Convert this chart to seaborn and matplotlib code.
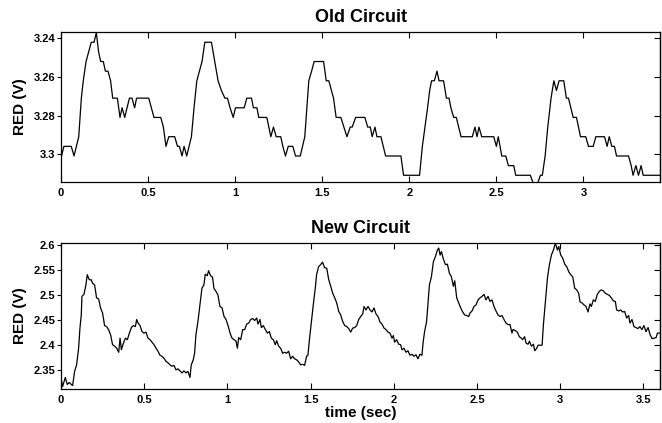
import matplotlib
matplotlib.use("Agg")
import matplotlib.pyplot as plt
import seaborn as sns

# Old circuit trace (quantised ADC steps), time in s, RED in V
old_t = [0.0, 0.003, 0.017, 0.059, 0.075, 0.102, 0.117, 0.128, 0.144, 0.159, 0.174, 0.190,
         0.203, 0.216, 0.228, 0.243, 0.255, 0.270, 0.285, 0.297, 0.324, 0.339, 0.351, 0.366,
         0.393, 0.408, 0.423, 0.434, 0.504, 0.534, 0.573, 0.588, 0.603, 0.619, 0.653, 0.669,
         0.680, 0.695, 0.707, 0.722, 0.749, 0.764, 0.780, 0.795, 0.810, 0.826, 0.864,
         0.883, 0.902, 0.921, 0.941, 0.956, 0.971, 0.989, 1.002, 1.052, 1.067, 1.094, 1.105,
         1.125, 1.136, 1.182, 1.205, 1.220, 1.236, 1.262, 1.274, 1.289, 1.305, 1.331, 1.347,
         1.374, 1.400, 1.412, 1.423, 1.439, 1.454, 1.508, 1.523, 1.538, 1.565, 1.580, 1.607,
         1.642, 1.661, 1.672, 1.692, 1.745, 1.761, 1.776, 1.787, 1.803, 1.814, 1.837, 1.864,
         1.952, 1.967, 2.059, 2.075, 2.090, 2.105, 2.117, 2.128, 2.144, 2.159, 2.171, 2.197,
         2.213, 2.228, 2.239, 2.255, 2.270, 2.297, 2.362, 2.377, 2.389, 2.400, 2.416, 2.485,
         2.500, 2.511, 2.531, 2.554, 2.569, 2.600, 2.611, 2.695, 2.715, 2.734, 2.753, 2.764,
         2.780, 2.795, 2.814, 2.830, 2.845, 2.860, 2.887, 2.902, 2.914, 2.941, 2.960, 2.983,
         3.013, 3.029, 3.056, 3.071, 3.121, 3.136, 3.148, 3.163, 3.178, 3.190, 3.259, 3.274,
         3.285, 3.301, 3.316, 3.331, 3.343, 3.440]
old_v = [3.286, 3.301, 3.296, 3.296, 3.301, 3.291, 3.271, 3.262, 3.252, 3.247, 3.242, 3.242,
         3.237, 3.247, 3.252, 3.252, 3.257, 3.257, 3.262, 3.271, 3.271, 3.281, 3.276, 3.281,
         3.271, 3.271, 3.276, 3.271, 3.271, 3.281, 3.281, 3.286, 3.296, 3.291, 3.291, 3.296,
         3.296, 3.301, 3.296, 3.301, 3.291, 3.276, 3.262, 3.257, 3.252, 3.242, 3.242,
         3.252, 3.262, 3.267, 3.271, 3.271, 3.276, 3.281, 3.276, 3.276, 3.271, 3.271, 3.276,
         3.276, 3.281, 3.281, 3.291, 3.286, 3.291, 3.291, 3.296, 3.301, 3.296, 3.296, 3.301,
         3.301, 3.291, 3.276, 3.262, 3.257, 3.252, 3.252, 3.262, 3.262, 3.271, 3.281, 3.281,
         3.291, 3.286, 3.286, 3.281, 3.281, 3.286, 3.286, 3.291, 3.286, 3.291, 3.291, 3.301,
         3.301, 3.311, 3.311, 3.296, 3.286, 3.276, 3.267, 3.262, 3.262, 3.257, 3.262, 3.262,
         3.271, 3.271, 3.276, 3.281, 3.281, 3.291, 3.291, 3.286, 3.291, 3.286, 3.291, 3.291,
         3.296, 3.291, 3.301, 3.301, 3.306, 3.306, 3.311, 3.311, 3.316, 3.316, 3.311, 3.311,
         3.301, 3.286, 3.271, 3.262, 3.267, 3.262, 3.262, 3.271, 3.271, 3.281, 3.281, 3.291,
         3.291, 3.296, 3.296, 3.291, 3.291, 3.296, 3.291, 3.296, 3.296, 3.301, 3.301, 3.306,
         3.311, 3.306, 3.311, 3.306, 3.311, 3.311]

# New circuit trace
new_t = [0.000, 0.010, 0.026, 0.038, 0.050, 0.062, 0.070, 0.082, 0.094, 0.106, 0.114, 0.122,
         0.126, 0.138, 0.150, 0.158, 0.170, 0.182, 0.190, 0.202, 0.214, 0.226, 0.238, 0.250,
         0.262, 0.274, 0.286, 0.298, 0.310, 0.323, 0.335, 0.347, 0.355, 0.363, 0.375, 0.387,
         0.399, 0.411, 0.423, 0.435, 0.447, 0.455, 0.463, 0.475, 0.487, 0.499, 0.511, 0.523,
         0.535, 0.547, 0.559, 0.571, 0.583, 0.595, 0.607, 0.619, 0.631, 0.643, 0.655, 0.667,
         0.679, 0.691, 0.703, 0.715, 0.727, 0.739, 0.751, 0.763, 0.775, 0.783, 0.795, 0.803,
         0.811, 0.823, 0.835, 0.847, 0.859, 0.867, 0.879, 0.887, 0.899, 0.911,
         0.919, 0.931, 0.943, 0.955, 0.968, 0.980, 0.992, 1.004, 1.016, 1.028, 1.040, 1.052,
         1.060, 1.068, 1.080, 1.092, 1.104, 1.116, 1.128, 1.140, 1.152, 1.164, 1.176, 1.184,
         1.196, 1.204, 1.216, 1.228, 1.240, 1.252, 1.264, 1.276, 1.288, 1.296, 1.308, 1.320,
         1.332, 1.344, 1.356, 1.368, 1.380, 1.392, 1.404, 1.416, 1.428, 1.440, 1.452, 1.464,
         1.476, 1.484, 1.492, 1.504, 1.516, 1.528, 1.536, 1.548, 1.560, 1.572, 1.584, 1.597,
         1.609, 1.621, 1.633, 1.645, 1.657, 1.669, 1.681, 1.693, 1.705, 1.717, 1.729, 1.741,
         1.753, 1.765, 1.777, 1.789, 1.801, 1.813,
         1.821, 1.833, 1.845, 1.857, 1.869, 1.881, 1.893, 1.905, 1.917, 1.929, 1.941, 1.953,
         1.965, 1.977, 1.989, 1.997, 2.005, 2.017, 2.029, 2.041, 2.049, 2.061, 2.073, 2.085,
         2.097, 2.109, 2.121, 2.133, 2.145, 2.157, 2.169, 2.177, 2.185, 2.197, 2.206, 2.214,
         2.226, 2.238, 2.250, 2.262, 2.270, 2.278, 2.286, 2.298, 2.310, 2.322, 2.334, 2.346,
         2.358, 2.366, 2.378, 2.390, 2.402, 2.414, 2.426, 2.438, 2.450, 2.458, 2.470, 2.482,
         2.494, 2.506, 2.518, 2.530, 2.542, 2.554, 2.566, 2.578, 2.590, 2.602, 2.614, 2.626,
         2.638, 2.650, 2.662, 2.674, 2.686, 2.698, 2.710, 2.716,
         2.718, 2.730, 2.742, 2.754, 2.766, 2.774, 2.786, 2.795, 2.807, 2.815, 2.827, 2.839,
         2.847, 2.859, 2.867, 2.879, 2.891, 2.899, 2.911, 2.923, 2.935, 2.947, 2.959, 2.971,
         2.983, 2.991, 3.003, 3.015, 3.027, 3.039, 3.051, 3.063, 3.075, 3.087, 3.099, 3.111,
         3.119, 3.131, 3.143, 3.155, 3.167, 3.179, 3.187, 3.199, 3.211, 3.223, 3.235, 3.247,
         3.259, 3.271, 3.283, 3.295, 3.307, 3.319, 3.331, 3.339, 3.351, 3.363, 3.375, 3.387,
         3.399, 3.411, 3.419, 3.431, 3.443, 3.455, 3.467, 3.479, 3.491, 3.503, 3.515, 3.528,
         3.540, 3.552, 3.564, 3.576, 3.584, 3.592, 3.600]
new_v = [2.335, 2.318, 2.336, 2.322, 2.326, 2.322, 2.320, 2.348, 2.361, 2.394, 2.434, 2.460,
         2.497, 2.501, 2.520, 2.540, 2.530, 2.530, 2.523, 2.520, 2.494, 2.492, 2.474, 2.464,
         2.439, 2.437, 2.431, 2.421, 2.401, 2.398, 2.394, 2.386, 2.414, 2.391, 2.404, 2.414,
         2.411, 2.424, 2.435, 2.439, 2.437, 2.451, 2.444, 2.439, 2.427, 2.424, 2.426, 2.414,
         2.411, 2.406, 2.401, 2.394, 2.388, 2.380, 2.378, 2.374, 2.368, 2.365, 2.361, 2.358,
         2.360, 2.351, 2.353, 2.349, 2.345, 2.349, 2.345, 2.348, 2.336, 2.361, 2.371, 2.384,
         2.421, 2.447, 2.480, 2.513, 2.520, 2.541, 2.538, 2.548, 2.538, 2.535,
         2.513, 2.507, 2.500, 2.477, 2.474, 2.457, 2.451, 2.439, 2.424, 2.414, 2.411, 2.408,
         2.394, 2.415, 2.411, 2.431, 2.431, 2.442, 2.444, 2.451, 2.453, 2.449, 2.454, 2.442,
         2.451, 2.435, 2.439, 2.431, 2.424, 2.427, 2.414, 2.411, 2.401, 2.409, 2.398, 2.394,
         2.384, 2.386, 2.384, 2.388, 2.373, 2.378, 2.373, 2.371, 2.367, 2.361, 2.362, 2.360,
         2.378, 2.380, 2.408, 2.444, 2.480, 2.513, 2.540, 2.556, 2.560, 2.565, 2.554, 2.553,
         2.530, 2.517, 2.503, 2.494, 2.484, 2.467, 2.460, 2.447, 2.439, 2.437, 2.433, 2.426,
         2.434, 2.435, 2.439, 2.451, 2.457, 2.462,
         2.477, 2.470, 2.477, 2.470, 2.466, 2.474, 2.462, 2.457, 2.446, 2.442, 2.434, 2.431,
         2.426, 2.424, 2.414, 2.419, 2.406, 2.411, 2.402, 2.401, 2.391, 2.394, 2.386, 2.389,
         2.380, 2.382, 2.378, 2.381, 2.373, 2.382, 2.380, 2.408, 2.427, 2.447, 2.487, 2.520,
         2.536, 2.566, 2.576, 2.589, 2.593, 2.579, 2.586, 2.571, 2.560, 2.561, 2.543, 2.536,
         2.517, 2.528, 2.494, 2.484, 2.474, 2.466, 2.460, 2.459, 2.457, 2.464, 2.468, 2.477,
         2.480, 2.490, 2.494, 2.497, 2.501, 2.490, 2.497, 2.487, 2.490, 2.477, 2.468, 2.460,
         2.457, 2.459, 2.451, 2.444, 2.441, 2.441, 2.424, 2.431,
         2.431, 2.429, 2.426, 2.417, 2.414, 2.411, 2.417, 2.404, 2.402, 2.408, 2.398, 2.402,
         2.389, 2.394, 2.400, 2.400, 2.400, 2.441, 2.487, 2.533, 2.560, 2.579, 2.589, 2.603,
         2.589, 2.596, 2.579, 2.573, 2.561, 2.556, 2.546, 2.540, 2.536, 2.513, 2.510, 2.503,
         2.486, 2.484, 2.480, 2.477, 2.466, 2.482, 2.477, 2.490, 2.487, 2.501, 2.507, 2.510,
         2.508, 2.503, 2.501, 2.499, 2.494, 2.488, 2.487, 2.470, 2.468, 2.470, 2.466, 2.467,
         2.454, 2.459, 2.444, 2.451, 2.437, 2.435, 2.433, 2.437, 2.431, 2.439, 2.427, 2.435,
         2.421, 2.413, 2.414, 2.415, 2.424, 2.424, 2.424]

old_xticks = [0, 0.5, 1, 1.5, 2, 2.5, 3]
old_xlabels = ["0", "0.5", "1", "1.5", "2", "2.5", "3"]
old_yticks = [3.24, 3.26, 3.28, 3.3]
old_ylabels = ["3.24", "3.26", "3.28", "3.3"]
new_xticks = [0, 0.5, 1, 1.5, 2, 2.5, 3, 3.5]
new_xlabels = ["0", "0.5", "1", "1.5", "2", "2.5", "3", "3.5"]
new_yticks = [2.35, 2.4, 2.45, 2.5, 2.55, 2.6]
new_ylabels = ["2.35", "2.4", "2.45", "2.5", "2.55", "2.6"]

sns.set_style("ticks")
plt.rcParams["font.family"] = ["Liberation Sans", "DejaVu Sans"]
plt.rcParams["text.color"] = "black"
plt.rcParams["axes.labelcolor"] = "black"
plt.rcParams["axes.titlecolor"] = "black"


def style_axes(ax, xticks, xlabels, yticks, ylabels, xlim, ylim, title):
    ax.set_xlim(xlim)
    ax.set_ylim(ylim)
    ax.set_xticks(xticks)
    ax.set_xticklabels(xlabels, fontweight="bold", fontsize=8)
    ax.set_yticks(yticks)
    ax.set_yticklabels(ylabels, fontweight="bold", fontsize=8)
    ax.tick_params(axis="x", direction="in", top=True, length=4, width=0.8, pad=4, colors="black")
    ax.tick_params(axis="y", direction="out", left=True, right=False, length=3, width=0.8, pad=1,
                   colors="black")
    sec = ax.secondary_yaxis("right")
    sec.set_yticks(yticks)
    sec.tick_params(direction="in", length=4, width=0.8, labelright=False, colors="black")
    sec.spines["right"].set_linewidth(0.9)
    sec.spines["right"].set_color("black")
    for s in ax.spines.values():
        s.set_visible(True)
        s.set_linewidth(0.9)
        s.set_color("black")
    ax.set_title(title, fontsize=13, fontweight="bold", pad=7, color="black")
    ax.set_ylabel("RED (V)", fontsize=11, fontweight="bold", labelpad=5, color="black")
    ax.set_xlabel("")


fig = plt.figure(figsize=(6.62, 4.23), dpi=100)
ax1 = fig.add_axes([0.0921, 0.5697, 0.905, 0.3546])
ax2 = fig.add_axes([0.0921, 0.0804, 0.905, 0.3451])

sns.lineplot(x=old_t, y=old_v, ax=ax1, color="black", linewidth=0.9, estimator=None, sort=False)
sns.lineplot(x=new_t, y=new_v, ax=ax2, color="black", linewidth=0.9, estimator=None, sort=False)

style_axes(ax1, old_xticks, old_xlabels, old_yticks, old_ylabels, (0, 3.44), (3.3145, 3.2367),
           "Old Circuit")
style_axes(ax2, new_xticks, new_xlabels, new_yticks, new_ylabels, (0, 3.6), (2.313, 2.603),
           "New Circuit")
ax2.set_xlabel("time (sec)", fontsize=11, fontweight="bold", labelpad=1, color="black")

fig.savefig("out.png", dpi=100)
